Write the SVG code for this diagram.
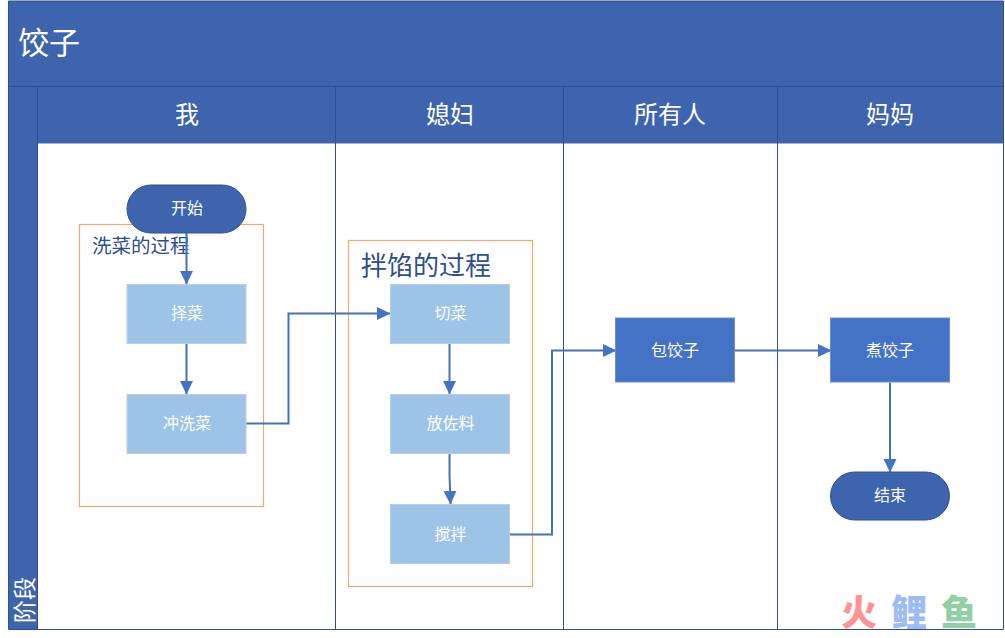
<svg xmlns="http://www.w3.org/2000/svg" width="1005" height="638" viewBox="0 0 1005 638">
<style>
text{font-family:"Noto Sans CJK SC","Noto Sans",sans-serif;text-anchor:middle;dominant-baseline:central}
.hd{fill:#3e64ad}
.ln{stroke:#2f528f;stroke-width:1;fill:none}
.lane{fill:#fff;font-size:24px}
.n{fill:#fff;font-size:16px}
.light{fill:#9dc3e6;stroke:#b8cfe6;stroke-width:1}
.dark{fill:#4472c4;stroke:#6a8fd0;stroke-width:1}
.term{fill:#3e64ad;stroke:#2f528f;stroke-width:1}
.grp{fill:none;stroke:#f4a66e;stroke-width:1.2}
.c{fill:none;stroke:#4472b4;stroke-width:2;marker-end:url(#a)}
.cap{fill:#2f4f8f;text-anchor:start}
</style>
<defs>
<marker id="a" markerUnits="userSpaceOnUse" markerWidth="14" markerHeight="14" refX="13" refY="6.500" orient="auto"><path d="M0 0L13.500 6.500L0 13Z" fill="#4472c4"/></marker>
</defs>
<rect width="1005" height="638" fill="#fff"/>
<g id="pool">
<rect class="hd" x="8.500" y="1" width="995" height="86"/>
<rect class="hd" x="8.500" y="87" width="29" height="542"/>
<rect class="hd" x="37.500" y="87" width="966" height="56.500"/>
<path class="ln" d="M8.500 1V629.500H1003.500V1M8.500 1H1003.500M8.500 86.500H1003.500M37.500 86.500V629.500M335.500 86.500V629.500M563.500 86.500V629.500M777.500 86.500V629.500"/>
<text x="49" y="40" fill="#fff" font-size="31">饺子</text>
<text x="187" y="112.500" class="lane">我</text>
<text x="450" y="112.500" class="lane">媳妇</text>
<text x="670" y="112.500" class="lane">所有人</text>
<text x="890" y="112.500" class="lane">妈妈</text>
<text transform="translate(23 600) rotate(-90)" fill="#fff" font-size="23">阶段</text>
</g>
<g id="group-wash">
<rect class="grp" x="79.500" y="224.500" width="184" height="282"/>
<text x="92" y="244" class="cap" font-size="19.500">洗菜的过程</text>
</g>
<g id="group-mix">
<rect class="grp" x="348.500" y="240.500" width="184" height="346"/>
<text x="361" y="263" class="cap" font-size="26">拌馅的过程</text>
</g>
<g id="connectors">
<path class="c" d="M186.500 233V284"/>
<path class="c" d="M186.500 343.500V394"/>
<path class="c" d="M246 423.500H288.500V313.500H390"/>
<path class="c" d="M449.500 343.500V394"/>
<path class="c" d="M449.500 453.500V474L450.500 504"/>
<path class="c" d="M509.500 534.500H552V350.500H616"/>
<path class="c" d="M734.500 350.500H831"/>
<path class="c" d="M890 382.500V472"/>
</g>
<g id="start"><rect class="term" x="127" y="185" width="119" height="48" rx="24"/><text x="187" y="207" class="n">开始</text></g>
<g id="pick"><rect class="light" x="127" y="284.500" width="119" height="59"/><text x="187" y="312" class="n">择菜</text></g>
<g id="rinse"><rect class="light" x="127" y="394.500" width="119" height="59"/><text x="187" y="422" class="n">冲洗菜</text></g>
<g id="cut"><rect class="light" x="390.500" y="284.500" width="119" height="59"/><text x="450.500" y="312" class="n">切菜</text></g>
<g id="season"><rect class="light" x="390.500" y="394.500" width="119" height="59"/><text x="450.500" y="422" class="n">放佐料</text></g>
<g id="stir"><rect class="light" x="390.500" y="504.500" width="119" height="59"/><text x="450.500" y="533" class="n">搅拌</text></g>
<g id="wrap"><rect class="dark" x="615.500" y="318" width="119" height="64"/><text x="675" y="349" class="n">包饺子</text></g>
<g id="boil"><rect class="dark" x="830.500" y="318" width="119" height="64"/><text x="890" y="349" class="n">煮饺子</text></g>
<g id="end"><rect class="term" x="830.500" y="472" width="119" height="48" rx="24"/><text x="890" y="494" class="n">结束</text></g>
<g id="watermark" font-size="36" font-weight="900">
<text x="859" y="610" fill="#ff9393">火</text>
<text x="909" y="610" fill="#9dbcf5">鲤</text>
<text x="959" y="610" fill="#93cfa4">鱼</text>
</g>
</svg>
